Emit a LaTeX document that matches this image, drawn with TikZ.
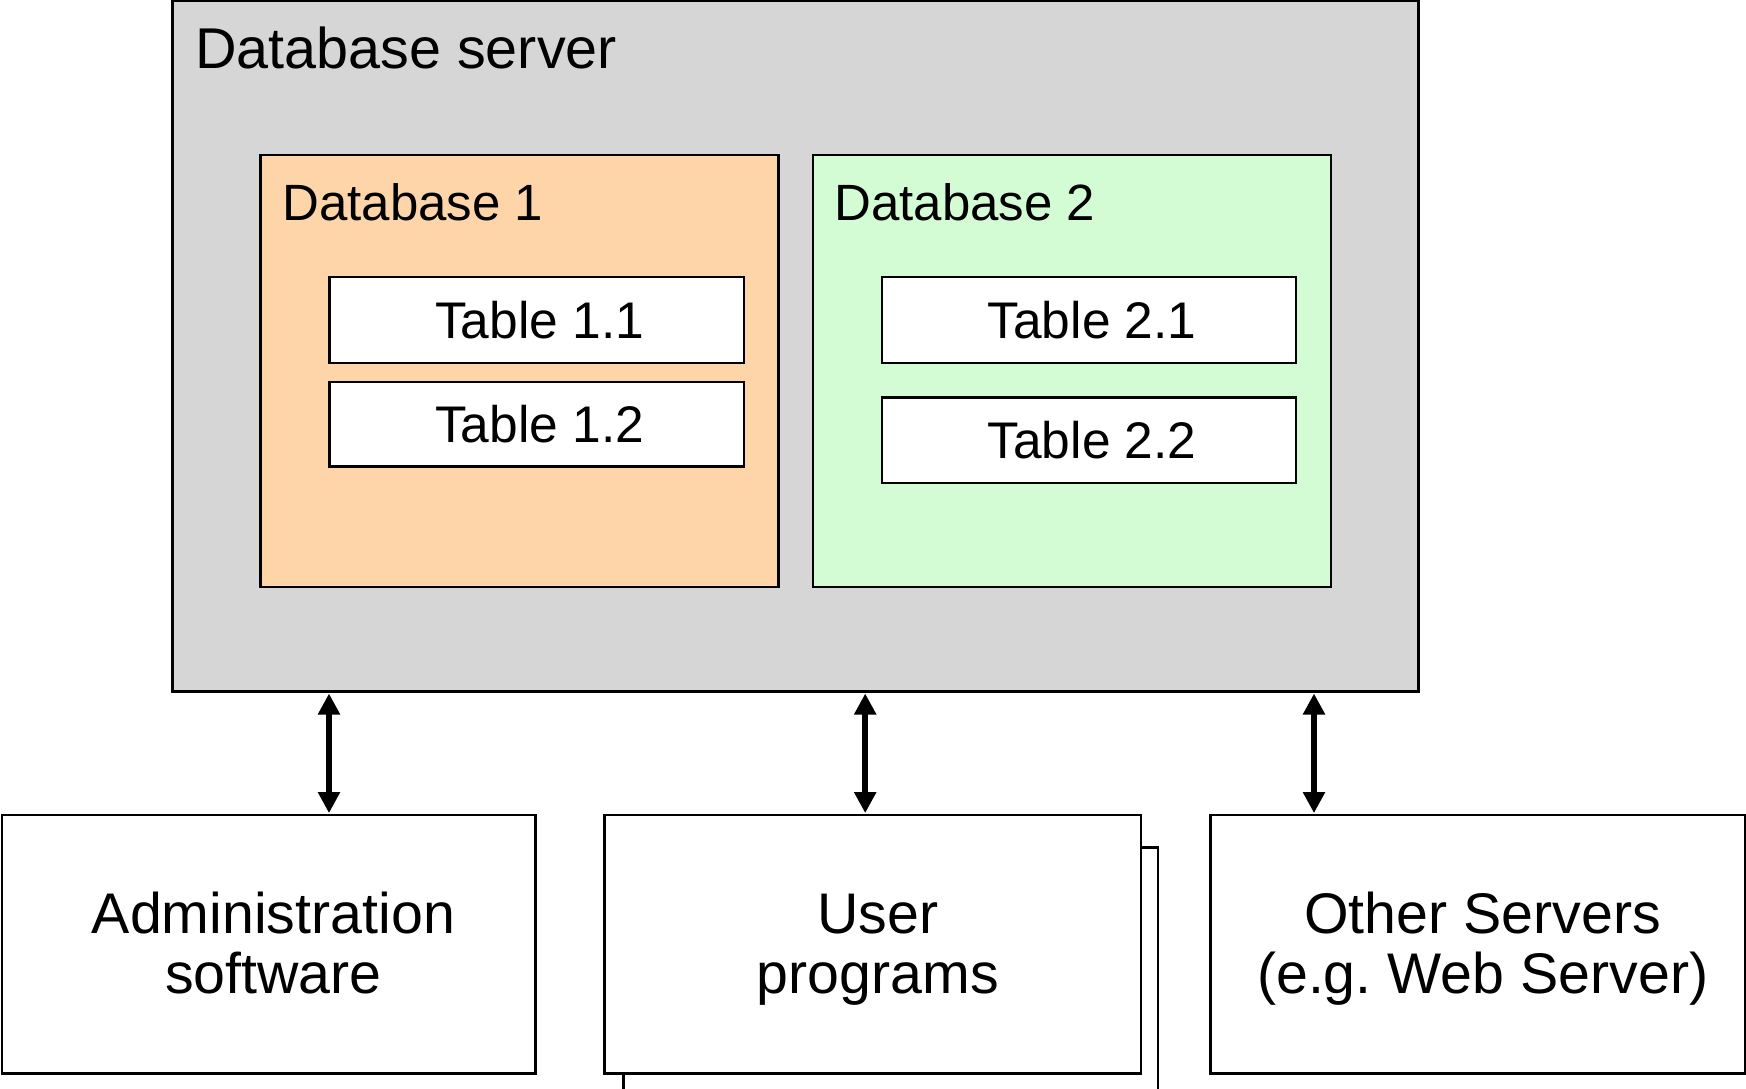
\documentclass[tikz,border=0pt]{standalone}
\usepackage{fontspec}
\setmainfont{Liberation Sans}
\usetikzlibrary{arrows.meta,calc}
\definecolor{srvgray}{HTML}{D6D6D6}
\definecolor{dbpeach}{HTML}{FED4A9}
\definecolor{dbgreen}{HTML}{D4FCD4}
\begin{document}
\frenchspacing
\begin{tikzpicture}[x=1pt,y=-1pt,
  box/.style={draw, line width=2.3pt, outer sep=0pt, inner sep=0pt, anchor=north west, rectangle},
  bigtext/.style={font=\fontsize{57.3}{60}\selectfont, align=center, inner sep=0pt},
  tabtext/.style={font=\fontsize{51.5}{60}\selectfont, inner sep=0pt},
  dbtext/.style={font=\fontsize{51}{60}\selectfont, anchor=base west, inner sep=0pt},
  biarrow/.style={line width=5.5pt, {Triangle[width=21pt,length=21pt]}-{Triangle[width=21pt,length=21pt]}, shorten <=2pt, shorten >=2pt}]
\useasboundingbox (0,0) rectangle (1746,1088);
\clip (0,0) rectangle (1746,1088);
\fill[white] (0,0) rectangle (1746,1088);
% server
\node[box, fill=srvgray, minimum width=1246pt, minimum height=690.3pt] (server) at (172.6,1.2) {};
\node[font=\fontsize{57.5}{61}\selectfont, anchor=base west, inner sep=0pt] (servertitle) at (195,68.5) {Database server};
% databases
\node[box, fill=dbpeach, minimum width=517.8pt, minimum height=432pt] (db1) at (260.6,154.8) {};
\node[dbtext] (db1title) at (282.3,220) {Database 1};
\node[box, fill=dbgreen, minimum width=517.8pt, minimum height=432pt] (db2) at (812.9,154.8) {};
\node[dbtext] (db2title) at (834.3,220) {Database 2};
% tables
\node[box, fill=white, minimum width=414.2pt, minimum height=85.7pt] (t11) at (329.6,277.3) {};
\node[tabtext] (t11text) at ($(t11.center)+(3,0)$) {Table 1.1};
\node[box, fill=white, minimum width=414.2pt, minimum height=84.7pt] (t12) at (329.6,381.9) {};
\node[tabtext] (t12text) at ($(t12.center)+(3,0)$) {Table 1.2};
\node[box, fill=white, minimum width=414.2pt, minimum height=85.7pt] (t21) at (881.9,277.3) {};
\node[tabtext] (t21text) at ($(t21.center)+(3,0)$) {Table 2.1};
\node[box, fill=white, minimum width=414.2pt, minimum height=85.8pt] (t22) at (881.9,397.5) {};
\node[tabtext] (t22text) at ($(t22.center)+(3,0)$) {Table 2.2};
% bottom boxes
\node[box, fill=white, minimum width=533.4pt, minimum height=258.3pt] (admin) at (2.2,815.1) {};
\node[bigtext] (admintext) at ($(admin.center)+(4.5,7)$) {\strut Administration\\\strut software};
\node[box, fill=white, minimum width=534.4pt, minimum height=258.3pt] (usershadow) at (623.6,847.4) {};
\node[box, fill=white, minimum width=536.7pt, minimum height=258.3pt] (user) at (604.6,815.1) {};
\node[bigtext] (usertext) at ($(user.center)+(5,7)$) {\strut User\\\strut programs};
\node[box, fill=white, minimum width=534.5pt, minimum height=258.3pt] (other) at (1210.4,815.1) {};
\node[bigtext] (othertext) at ($(other.center)+(5,7)$) {\strut Other Servers\\\strut (e.g. Web Server)};
% connectors
\coordinate (a1) at (329.0,750);
\coordinate (a2) at (865.2,750);
\coordinate (a3) at (1314.0,750);
\draw[biarrow] (a1 |- server.south) -- (a1 |- admin.north);
\draw[biarrow] (a2 |- server.south) -- (a2 |- user.north);
\draw[biarrow] (a3 |- server.south) -- (a3 |- other.north);
\end{tikzpicture}
\end{document}
